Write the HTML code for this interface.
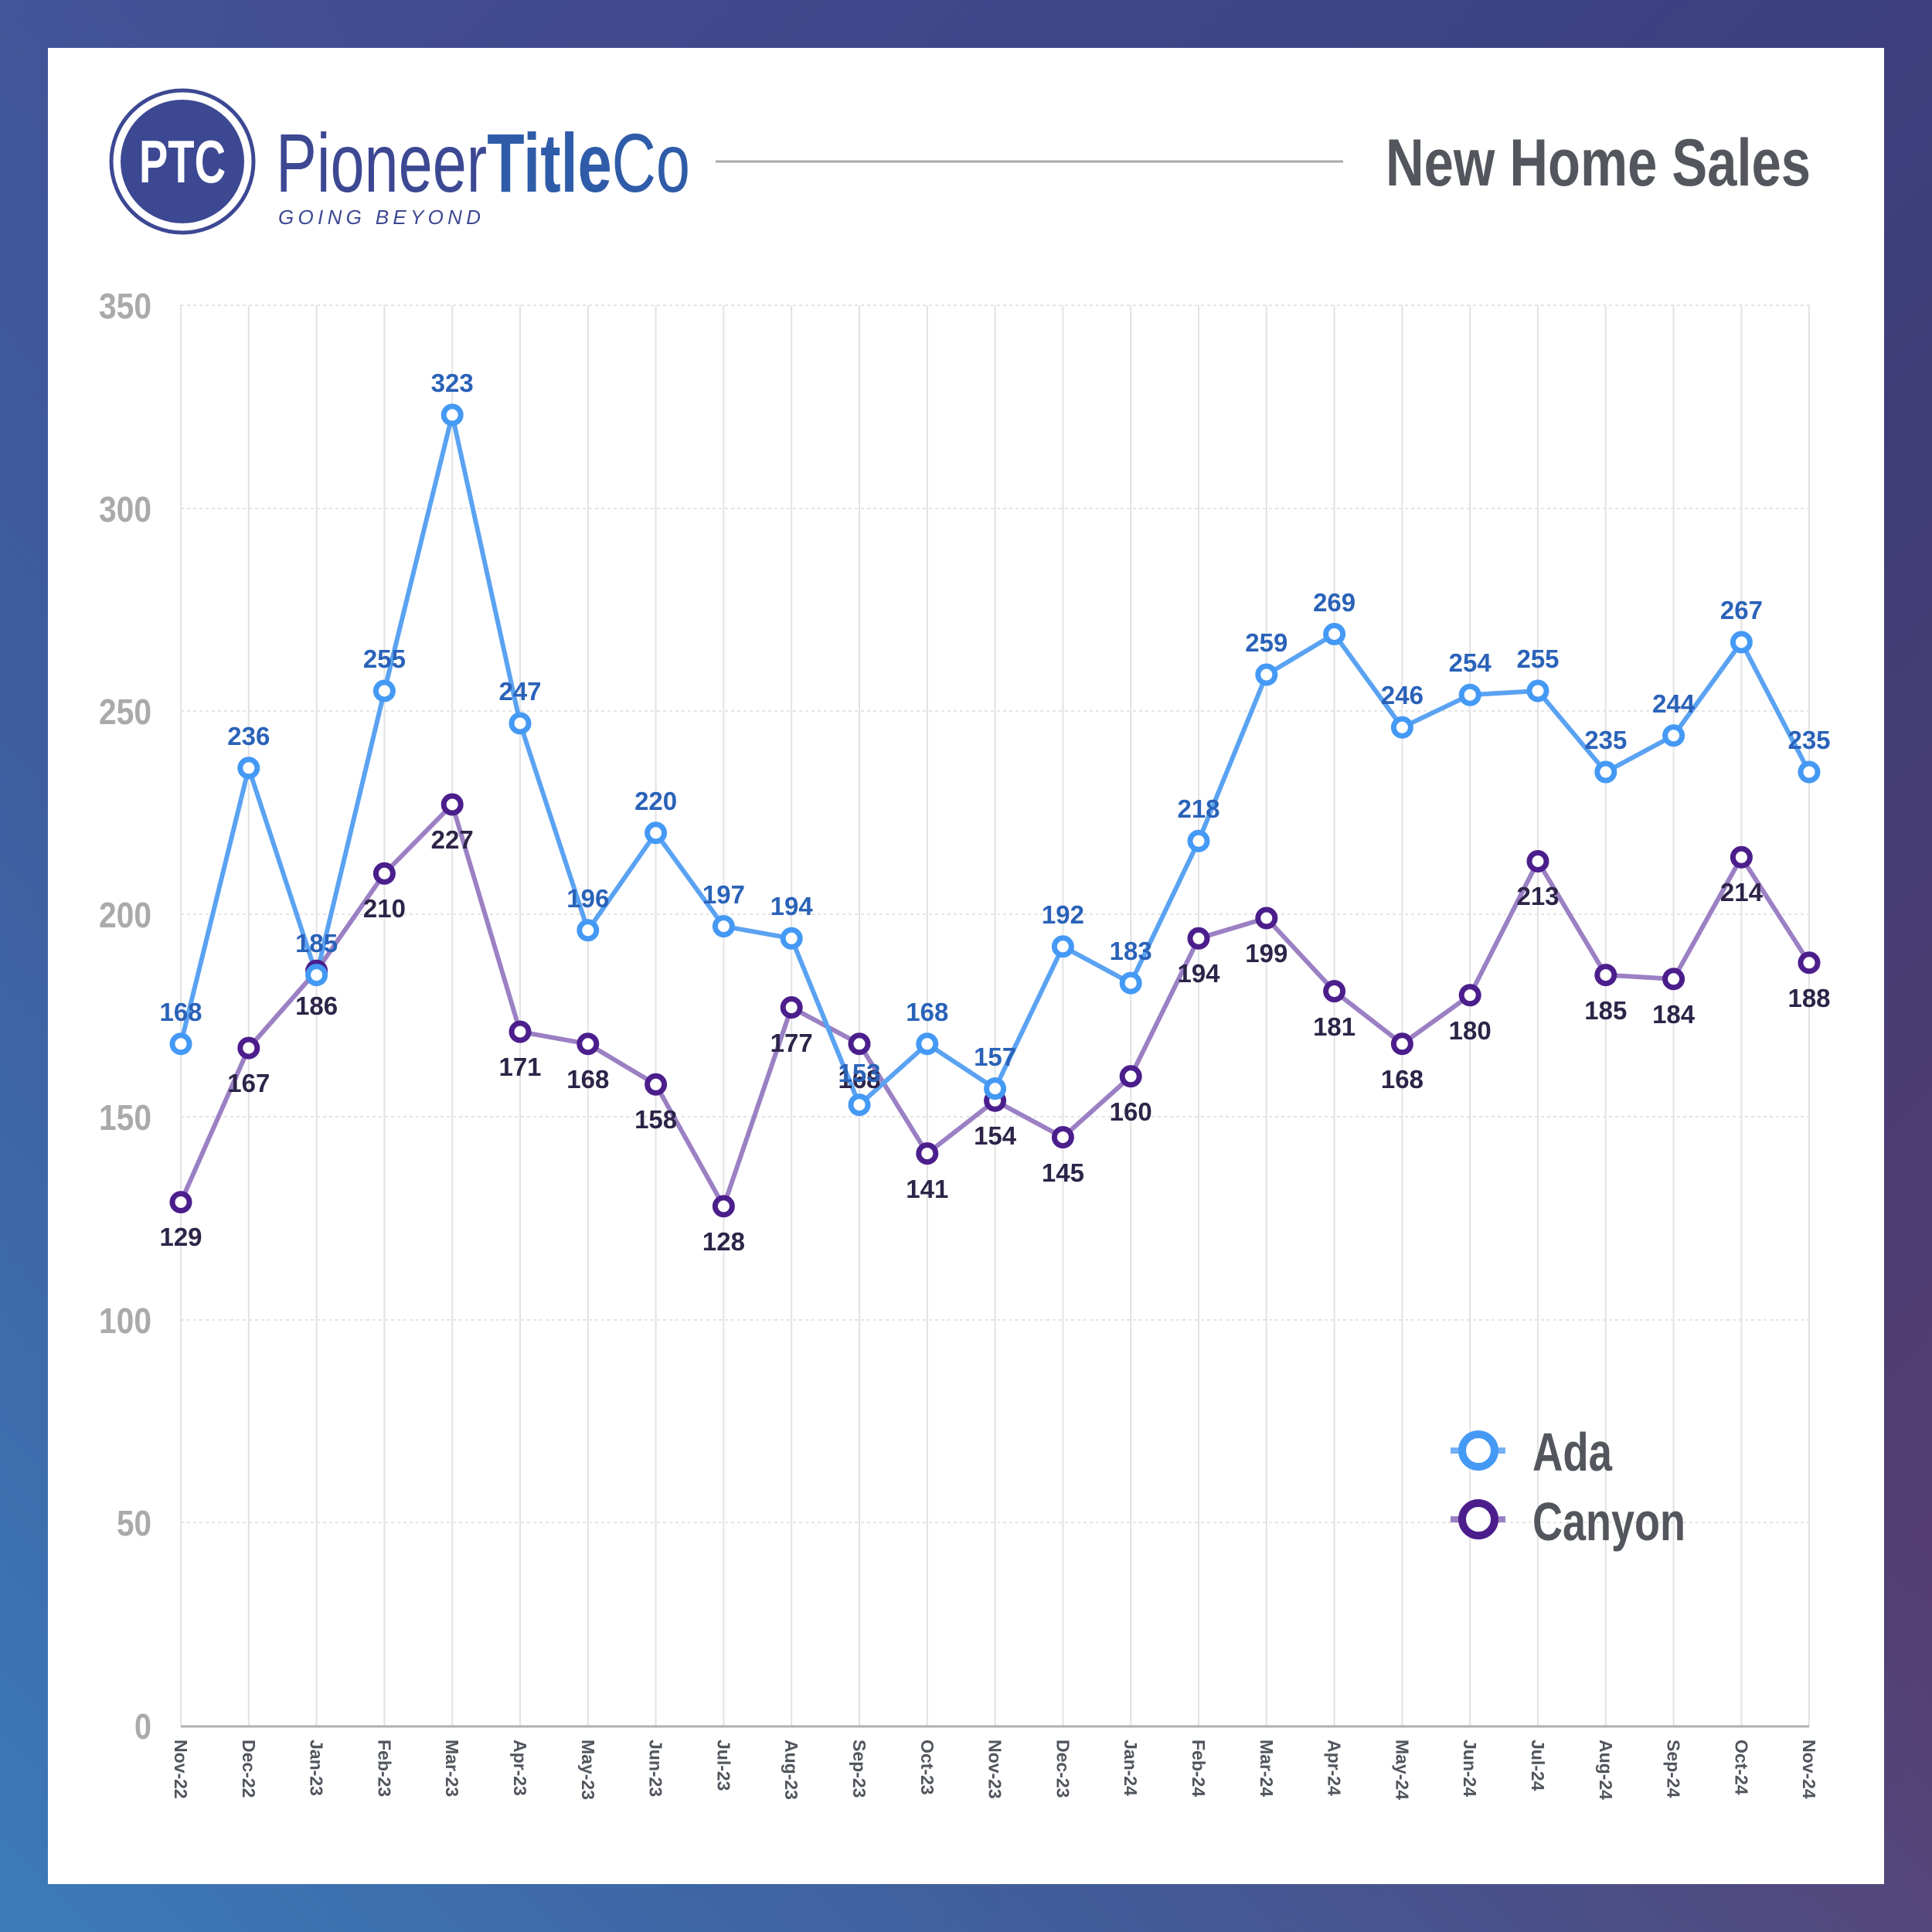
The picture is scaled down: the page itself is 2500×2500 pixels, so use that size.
<!DOCTYPE html>
<html><head><meta charset="utf-8"><style>
html,body{margin:0;padding:0;width:2500px;height:2500px;overflow:hidden}
body{background:linear-gradient(135deg,#434f93 0%,#3c4383 40%,#3f3d78 60%,#5a3d6e 100%)}
.bg2{position:absolute;left:0;top:0;width:2500px;height:2500px;background:linear-gradient(45deg,rgba(61,122,186,1) 0%,rgba(61,110,175,0.6) 30%,rgba(60,70,140,0) 60%)}
svg{position:absolute;left:0;top:0}
text{font-family:"Liberation Sans",sans-serif;font-weight:bold}
.ya{fill:#2a62b8;font-size:33px;text-anchor:middle}
.yc{fill:#2d2448;font-size:33px;text-anchor:middle}
.yt{fill:#aaaaaa;font-size:46px;text-anchor:end}
.xt{fill:#50545c;font-size:23px}
</style></head><body>
<div class="bg2"></div>
<svg width="2500" height="2500" viewBox="0 0 2500 2500">
<rect x="62" y="62" width="2376" height="2376" fill="#fff"/>
<circle cx="236" cy="209" r="92" fill="#fff" stroke="#3d4893" stroke-width="5"/>
<circle cx="236" cy="209" r="80" fill="#3d4893"/>
<text x="236" y="236" fill="#fff" font-size="78" text-anchor="middle" transform="translate(236 0) scale(0.72 1) translate(-236 0)">PTC</text>
<text x="357" y="248" font-size="108" style="font-weight:normal" fill="#3d4893" textLength="536" lengthAdjust="spacingAndGlyphs">Pioneer<tspan font-weight="bold" fill="#2f5ca8">Title</tspan><tspan fill="#2f5ca8" style="font-weight:normal">Co</tspan></text>
<text x="360" y="290" font-size="26" font-style="italic" style="font-weight:normal" fill="#3d4893" textLength="262" lengthAdjust="spacing">GOING  BEYOND</text>
<line x1="926" y1="209" x2="1738" y2="209" stroke="#a8a8a8" stroke-width="3"/>
<text x="1793" y="240" font-size="86" fill="#53565d" textLength="550" lengthAdjust="spacingAndGlyphs">New Home Sales</text>
<g stroke="#e4e4e4" stroke-width="2" stroke-dasharray="4 4">
<line x1="234" y1="395" x2="2341" y2="395"/><line x1="234" y1="658" x2="2341" y2="658"/><line x1="234" y1="920" x2="2341" y2="920"/><line x1="234" y1="1183" x2="2341" y2="1183"/><line x1="234" y1="1445" x2="2341" y2="1445"/><line x1="234" y1="1708" x2="2341" y2="1708"/><line x1="234" y1="1970" x2="2341" y2="1970"/>
</g>
<g stroke="#e2e2e2" stroke-width="2">
<line x1="234" y1="395" x2="234" y2="2233"/><line x1="321.8" y1="395" x2="321.8" y2="2233"/><line x1="409.6" y1="395" x2="409.6" y2="2233"/><line x1="497.4" y1="395" x2="497.4" y2="2233"/><line x1="585.2" y1="395" x2="585.2" y2="2233"/><line x1="673" y1="395" x2="673" y2="2233"/><line x1="760.8" y1="395" x2="760.8" y2="2233"/><line x1="848.6" y1="395" x2="848.6" y2="2233"/><line x1="936.4" y1="395" x2="936.4" y2="2233"/><line x1="1024.2" y1="395" x2="1024.2" y2="2233"/><line x1="1112" y1="395" x2="1112" y2="2233"/><line x1="1199.8" y1="395" x2="1199.8" y2="2233"/><line x1="1287.6" y1="395" x2="1287.6" y2="2233"/><line x1="1375.4" y1="395" x2="1375.4" y2="2233"/><line x1="1463.2" y1="395" x2="1463.2" y2="2233"/><line x1="1551" y1="395" x2="1551" y2="2233"/><line x1="1638.8" y1="395" x2="1638.8" y2="2233"/><line x1="1726.6" y1="395" x2="1726.6" y2="2233"/><line x1="1814.4" y1="395" x2="1814.4" y2="2233"/><line x1="1902.2" y1="395" x2="1902.2" y2="2233"/><line x1="1990" y1="395" x2="1990" y2="2233"/><line x1="2077.8" y1="395" x2="2077.8" y2="2233"/><line x1="2165.6" y1="395" x2="2165.6" y2="2233"/><line x1="2253.4" y1="395" x2="2253.4" y2="2233"/><line x1="2341" y1="395" x2="2341" y2="2233"/>
</g>
<line x1="234" y1="2234" x2="2341" y2="2234" stroke="#b0b0b0" stroke-width="3"/>
<text class="yt" x="196" y="412" textLength="68" lengthAdjust="spacingAndGlyphs">350</text><text class="yt" x="196" y="675" textLength="68" lengthAdjust="spacingAndGlyphs">300</text><text class="yt" x="196" y="937" textLength="68" lengthAdjust="spacingAndGlyphs">250</text><text class="yt" x="196" y="1200" textLength="68" lengthAdjust="spacingAndGlyphs">200</text><text class="yt" x="196" y="1462" textLength="68" lengthAdjust="spacingAndGlyphs">150</text><text class="yt" x="196" y="1725" textLength="68" lengthAdjust="spacingAndGlyphs">100</text><text class="yt" x="196" y="1987" textLength="45" lengthAdjust="spacingAndGlyphs">50</text><text class="yt" x="196" y="2250" textLength="22" lengthAdjust="spacingAndGlyphs">0</text>
<g class="xt">
<text transform="translate(226 2251) rotate(90)">Nov-22</text>
<text transform="translate(313.8 2251) rotate(90)">Dec-22</text>
<text transform="translate(401.6 2251) rotate(90)">Jan-23</text>
<text transform="translate(489.4 2251) rotate(90)">Feb-23</text>
<text transform="translate(577.2 2251) rotate(90)">Mar-23</text>
<text transform="translate(665 2251) rotate(90)">Apr-23</text>
<text transform="translate(752.8 2251) rotate(90)">May-23</text>
<text transform="translate(840.6 2251) rotate(90)">Jun-23</text>
<text transform="translate(928.4 2251) rotate(90)">Jul-23</text>
<text transform="translate(1016.2 2251) rotate(90)">Aug-23</text>
<text transform="translate(1104 2251) rotate(90)">Sep-23</text>
<text transform="translate(1191.8 2251) rotate(90)">Oct-23</text>
<text transform="translate(1279.6 2251) rotate(90)">Nov-23</text>
<text transform="translate(1367.4 2251) rotate(90)">Dec-23</text>
<text transform="translate(1455.2 2251) rotate(90)">Jan-24</text>
<text transform="translate(1543 2251) rotate(90)">Feb-24</text>
<text transform="translate(1630.8 2251) rotate(90)">Mar-24</text>
<text transform="translate(1718.6 2251) rotate(90)">Apr-24</text>
<text transform="translate(1806.4 2251) rotate(90)">May-24</text>
<text transform="translate(1894.2 2251) rotate(90)">Jun-24</text>
<text transform="translate(1982 2251) rotate(90)">Jul-24</text>
<text transform="translate(2069.8 2251) rotate(90)">Aug-24</text>
<text transform="translate(2157.6 2251) rotate(90)">Sep-24</text>
<text transform="translate(2245.4 2251) rotate(90)">Oct-24</text>
<text transform="translate(2333 2251) rotate(90)">Nov-24</text>
</g>
<polyline fill="none" stroke="#9b80c4" stroke-width="6" stroke-linejoin="round" points="234,1555.6 321.8,1356.1 409.6,1256.3 497.4,1130.3 585.2,1041 673,1335.1 760.8,1350.8 848.6,1403.3 936.4,1560.9 1024.2,1303.6 1112,1350.8 1199.8,1492.6 1287.6,1424.3 1375.4,1471.6 1463.2,1392.8 1551,1214.3 1638.8,1188 1726.6,1282.6 1814.4,1350.8 1902.2,1287.8 1990,1114.5 2077.8,1261.6 2165.6,1266.8 2253.4,1109.3 2341,1245.8"/>
<polyline fill="none" stroke="#5aa2f2" stroke-width="6" stroke-linejoin="round" points="234,1350.8 321.8,993.8 409.6,1261.6 497.4,894 585.2,536.9 673,936 760.8,1203.8 848.6,1077.8 936.4,1198.6 1024.2,1214.3 1112,1429.6 1199.8,1350.8 1287.6,1408.6 1375.4,1224.8 1463.2,1272.1 1551,1088.3 1638.8,873 1726.6,820.5 1814.4,941.3 1902.2,899.2 1990,894 2077.8,999 2165.6,951.8 2253.4,831 2341,999"/>
<g fill="#fff" stroke="#4b1e8c" stroke-width="7">
<circle cx="234" cy="1555.6" r="11"/><circle cx="321.8" cy="1356.1" r="11"/><circle cx="409.6" cy="1256.3" r="11"/><circle cx="497.4" cy="1130.3" r="11"/><circle cx="585.2" cy="1041" r="11"/><circle cx="673" cy="1335.1" r="11"/><circle cx="760.8" cy="1350.8" r="11"/><circle cx="848.6" cy="1403.3" r="11"/><circle cx="936.4" cy="1560.9" r="11"/><circle cx="1024.2" cy="1303.6" r="11"/><circle cx="1112" cy="1350.8" r="11"/><circle cx="1199.8" cy="1492.6" r="11"/><circle cx="1287.6" cy="1424.3" r="11"/><circle cx="1375.4" cy="1471.6" r="11"/><circle cx="1463.2" cy="1392.8" r="11"/><circle cx="1551" cy="1214.3" r="11"/><circle cx="1638.8" cy="1188" r="11"/><circle cx="1726.6" cy="1282.6" r="11"/><circle cx="1814.4" cy="1350.8" r="11"/><circle cx="1902.2" cy="1287.8" r="11"/><circle cx="1990" cy="1114.5" r="11"/><circle cx="2077.8" cy="1261.6" r="11"/><circle cx="2165.6" cy="1266.8" r="11"/><circle cx="2253.4" cy="1109.3" r="11"/><circle cx="2341" cy="1245.8" r="11"/>
</g>
<g fill="#fff" stroke="#4499f5" stroke-width="7">
<circle cx="234" cy="1350.8" r="11"/><circle cx="321.8" cy="993.8" r="11"/><circle cx="409.6" cy="1261.6" r="11"/><circle cx="497.4" cy="894" r="11"/><circle cx="585.2" cy="536.9" r="11"/><circle cx="673" cy="936" r="11"/><circle cx="760.8" cy="1203.8" r="11"/><circle cx="848.6" cy="1077.8" r="11"/><circle cx="936.4" cy="1198.6" r="11"/><circle cx="1024.2" cy="1214.3" r="11"/><circle cx="1112" cy="1429.6" r="11"/><circle cx="1199.8" cy="1350.8" r="11"/><circle cx="1287.6" cy="1408.6" r="11"/><circle cx="1375.4" cy="1224.8" r="11"/><circle cx="1463.2" cy="1272.1" r="11"/><circle cx="1551" cy="1088.3" r="11"/><circle cx="1638.8" cy="873" r="11"/><circle cx="1726.6" cy="820.5" r="11"/><circle cx="1814.4" cy="941.3" r="11"/><circle cx="1902.2" cy="899.2" r="11"/><circle cx="1990" cy="894" r="11"/><circle cx="2077.8" cy="999" r="11"/><circle cx="2165.6" cy="951.8" r="11"/><circle cx="2253.4" cy="831" r="11"/><circle cx="2341" cy="999" r="11"/>
</g>
<g class="yc">
<text x="234" y="1612">129</text><text x="321.8" y="1413">167</text><text x="409.6" y="1313">186</text><text x="497.4" y="1187">210</text><text x="585.2" y="1098">227</text><text x="673" y="1392">171</text><text x="760.8" y="1408">168</text><text x="848.6" y="1460">158</text><text x="936.4" y="1618">128</text><text x="1024.2" y="1361">177</text><text x="1112" y="1408">168</text><text x="1199.8" y="1550">141</text><text x="1287.6" y="1481">154</text><text x="1375.4" y="1529">145</text><text x="1463.2" y="1450">160</text><text x="1551" y="1271">194</text><text x="1638.8" y="1245">199</text><text x="1726.6" y="1340">181</text><text x="1814.4" y="1408">168</text><text x="1902.2" y="1345">180</text><text x="1990" y="1171">213</text><text x="2077.8" y="1319">185</text><text x="2165.6" y="1324">184</text><text x="2253.4" y="1166">214</text><text x="2341" y="1303">188</text>
</g>
<g class="ya">
<text x="234" y="1321">168</text><text x="321.8" y="964">236</text><text x="409.6" y="1232">185</text><text x="497.4" y="864">255</text><text x="585.2" y="507">323</text><text x="673" y="906">247</text><text x="760.8" y="1174">196</text><text x="848.6" y="1048">220</text><text x="936.4" y="1169">197</text><text x="1024.2" y="1184">194</text><text x="1112" y="1400">153</text><text x="1199.8" y="1321">168</text><text x="1287.6" y="1379">157</text><text x="1375.4" y="1195">192</text><text x="1463.2" y="1242">183</text><text x="1551" y="1058">218</text><text x="1638.8" y="843">259</text><text x="1726.6" y="791">269</text><text x="1814.4" y="911">246</text><text x="1902.2" y="869">254</text><text x="1990" y="864">255</text><text x="2077.8" y="969">235</text><text x="2165.6" y="922">244</text><text x="2253.4" y="801">267</text><text x="2341" y="969">235</text>
</g>
<line x1="1877" y1="1877" x2="1948" y2="1877" stroke="#74b0f6" stroke-width="8"/>
<circle cx="1913" cy="1877" r="21" fill="#fff" stroke="#4499f5" stroke-width="10"/>
<text x="1983" y="1903" font-size="70" fill="#53565d" textLength="103" lengthAdjust="spacingAndGlyphs">Ada</text>
<line x1="1877" y1="1966" x2="1948" y2="1966" stroke="#9b80c4" stroke-width="8"/>
<circle cx="1913" cy="1966" r="21" fill="#fff" stroke="#4b1e8c" stroke-width="10"/>
<text x="1983" y="1993" font-size="70" fill="#53565d" textLength="198" lengthAdjust="spacingAndGlyphs">Canyon</text>
</svg>
</body></html>
